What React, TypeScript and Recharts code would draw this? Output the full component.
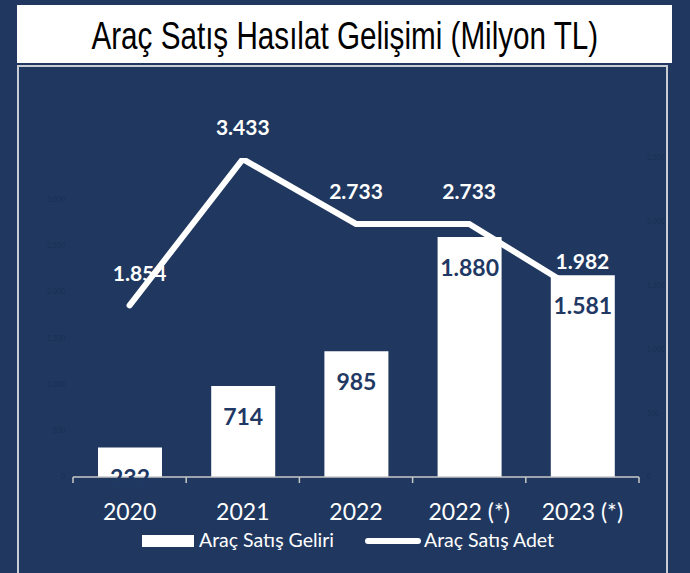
import React from 'react';
import { ComposedChart, Bar, Line, XAxis, YAxis, LabelList } from 'recharts';

const categories = ['2020', '2021', '2022', '2022 (*)', '2023 (*)'];
const revenue = [232, 714, 985, 1880, null];
const revenueForecast = [null, null, null, null, 1581];
const units = [1854, 3433, 2733, 2733, 1982];
const unitTicks = [0, 500, 1000, 1500, 2000, 2500, 3000];
const revenueTicks = [0, 500, 1000, 1500, 2000, 2500];

const data = categories.map((c, i) => ({
  category: c,
  revenue: revenue[i],
  revenueForecast: revenueForecast[i],
  units: units[i],
}));

const BG = '#20385f';
const NAVY = '#1f3864';
const FAINT = '#1a2f55';
const W = 690;
const H = 573;
const M = { top: 158, right: 11, bottom: 36, left: 13 };
const LEFT_W = 60;
const RIGHT_W = 40;
const PLOT_LEFT = M.left + LEFT_W;
const PLOT_RIGHT = W - M.right - RIGHT_W;
const HALF_BAND = (PLOT_RIGHT - PLOT_LEFT) / categories.length / 2;
const FONT = 'Lato, "Open Sans", sans-serif';

const fmt = (v: any) =>
  v == null ? '' : String(v).replace(/\B(?=(\d{3})+(?!\d))/g, '.');

const XTick = (props: any) => {
  const { x, y, payload, index } = props;
  const last = index === categories.length - 1;
  return (
    <g>
      <line x1={x - HALF_BAND} x2={x - HALF_BAND} y1={y} y2={y + 6} stroke="#c8c8c8" strokeWidth={1.5} />
      {last && (
        <line x1={x + HALF_BAND} x2={x + HALF_BAND} y1={y} y2={y + 6} stroke="#c8c8c8" strokeWidth={1.5} />
      )}
      <text x={x} y={y + 34} textAnchor="middle" dominantBaseline="central" fill="#ffffff" fontSize={23} fontFamily={FONT}>
        {payload.value}
      </text>
    </g>
  );
};

const BarLabel = (props: any) => {
  const { x, y, width, value } = props;
  if (value == null) return null;
  return (
    <text x={x + width / 2} y={y + 30} textAnchor="middle" dominantBaseline="central" fill={NAVY} fontSize={23} fontWeight={700} fontFamily={FONT}>
      {fmt(value)}
    </text>
  );
};

const LineLabel = (props: any) => {
  const { x, y, value, index } = props;
  const dx = index === 0 ? 10 : 0;
  return (
    <text x={x + dx} y={y - 33} textAnchor="middle" dominantBaseline="central" fill="#ffffff" fontSize={21} fontWeight={700} fontFamily={FONT}>
      {fmt(value)}
    </text>
  );
};

export default function App() {
  return (
    <div style={{ position: 'absolute', left: 0, top: 0, width: W, height: H, background: BG, overflow: 'hidden' }}>
      <div
        style={{
          position: 'absolute', left: 17, top: 5, width: 655, height: 58, background: '#ffffff',
          display: 'flex', alignItems: 'center', justifyContent: 'center',
          fontFamily: '"Liberation Sans Narrow", "Liberation Sans", Arial, sans-serif', fontSize: 38, color: '#000',
        }}
      >
        <span style={{ display: 'inline-block', transform: 'scaleX(0.78)', whiteSpace: 'nowrap', marginTop: 4 }}>
          Araç Satış Hasılat Gelişimi (Milyon TL)
        </span>
      </div>
      <div style={{ position: 'absolute', left: 17, top: 65, width: 651, height: 600, borderLeft: '2px solid #c8ccd4', borderRight: '2px solid #c8ccd4', borderTop: '2px solid #c8ccd4', boxSizing: 'border-box' }} />
      <div style={{ position: 'absolute', left: 0, top: 0 }}>
        <ComposedChart width={W} height={H} data={data} margin={M}>
          <XAxis
            dataKey="category"
            axisLine={{ stroke: '#c8c8c8', strokeWidth: 1.5 }}
            tickLine={false}
            tickSize={0}
            tickMargin={0}
            height={60}
            interval={0}
            tick={<XTick />}
          />
          <YAxis
            yAxisId="units"
            orientation="left"
            width={LEFT_W}
            domain={[0, 3445]}
            allowDataOverflow
            ticks={unitTicks}
            tickFormatter={fmt}
            axisLine={false}
            tickLine={false}
            tick={{ fill: FAINT, fontSize: 7, fontFamily: FONT }}
          />
          <YAxis
            yAxisId="rev"
            orientation="right"
            width={RIGHT_W}
            domain={[0, 2500]}
            allowDataOverflow
            ticks={revenueTicks}
            tickFormatter={fmt}
            axisLine={false}
            tickLine={false}
            tick={{ fill: FAINT, fontSize: 7, fontFamily: FONT }}
          />
          <Bar yAxisId="rev" dataKey="revenue" stackId="r" fill="#ffffff" barSize={64} isAnimationActive={false}>
            <LabelList dataKey="revenue" content={<BarLabel />} />
          </Bar>
          <Line
            yAxisId="units"
            dataKey="units"
            stroke="#ffffff"
            strokeWidth={6}
            strokeLinecap="round"
            strokeLinejoin="miter"
            dot={false}
            activeDot={false}
            isAnimationActive={false}
          >
            <LabelList dataKey="units" content={<LineLabel />} />
          </Line>
          <Bar yAxisId="rev" dataKey="revenueForecast" stackId="r" fill="#ffffff" barSize={64} isAnimationActive={false}>
            <LabelList dataKey="revenueForecast" content={<BarLabel />} />
          </Bar>
        </ComposedChart>
      </div>
      <div style={{ position: 'absolute', left: 142, top: 535, width: 52, height: 12, background: '#ffffff' }} />
      <div style={{ position: 'absolute', left: 199, top: 528, height: 24, lineHeight: '24px', fontSize: 19.5, fontFamily: FONT, color: '#fff', whiteSpace: 'nowrap' }}>
        Araç Satış Geliri
      </div>
      <div style={{ position: 'absolute', left: 365, top: 538, width: 56, height: 6, borderRadius: 3, background: '#ffffff' }} />
      <div style={{ position: 'absolute', left: 424, top: 528, height: 24, lineHeight: '24px', fontSize: 19.5, fontFamily: FONT, color: '#fff', whiteSpace: 'nowrap' }}>
        Araç Satış Adet
      </div>
    </div>
  );
}
